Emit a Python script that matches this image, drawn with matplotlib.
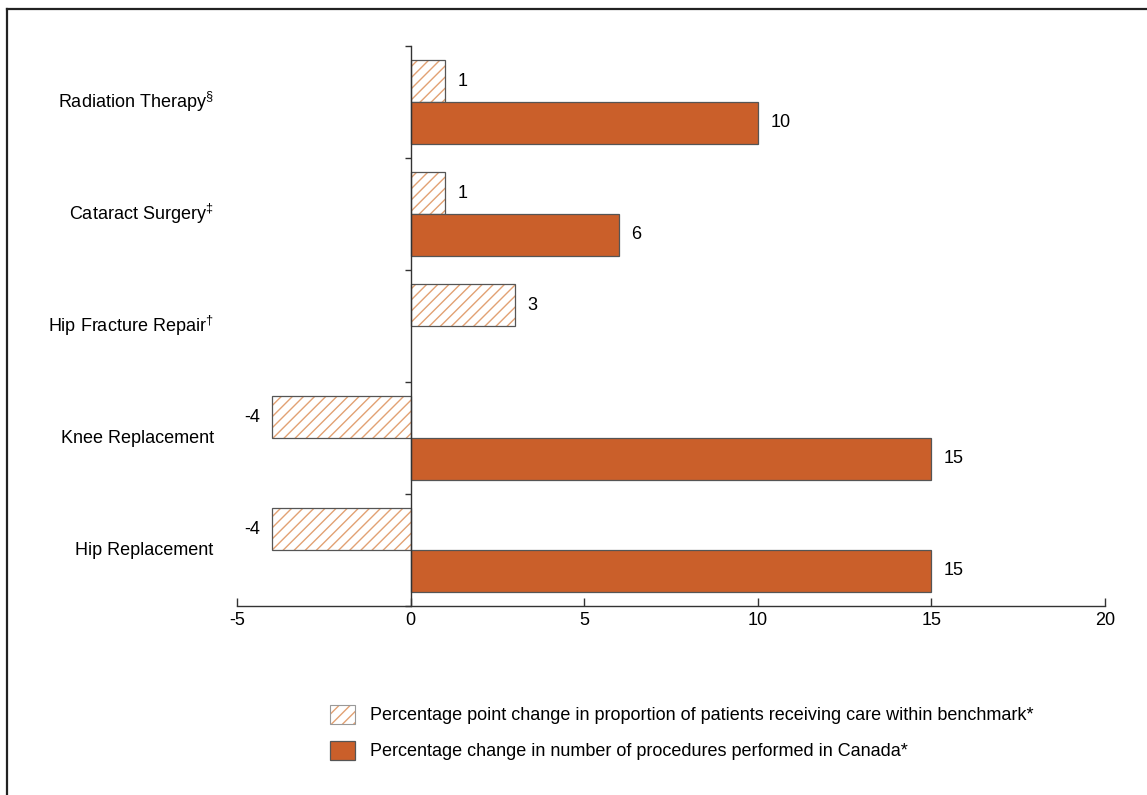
import numpy as np
import matplotlib
matplotlib.use('Agg')
import matplotlib.pyplot as plt
from matplotlib.patches import Patch
from matplotlib.lines import Line2D

plt.rcParams['font.family'] = ['Liberation Sans', 'DejaVu Sans']
plt.rcParams['mathtext.fontset'] = 'custom'
plt.rcParams['mathtext.rm'] = 'Liberation Sans'
plt.rcParams['hatch.linewidth'] = 1.0

# categories, bottom to top
categories = ['Hip Replacement', 'Knee Replacement', 'Hip Fracture Repair',
              'Cataract Surgery', 'Radiation Therapy']
marks = ['', '', '\u2020', '\u2021', '\u00a7']
benchmark_change = [-4, -4, 3, 1, 1]
volume_change = [15, 15, np.nan, 6, 10]
xticks = [-5, 0, 5, 10, 15, 20]

legend_labels = ['Percentage point change in proportion of patients receiving care within benchmark*',
                 'Percentage change in number of procedures performed in Canada*']

orange = '#CA5F2A'
hatch_col = '#E2A173'
edge = '#555555'
fs = 13

fig = plt.figure(figsize=(11.47, 7.95), dpi=100)
ax = fig.add_axes([0.2066, 0.2377, 0.7568, 0.7044])

y = np.arange(len(categories))
h = 0.374

# hatched bars: hatch drawn by an orange-edged bar, outline by a second one
ax.barh(y, benchmark_change, height=h, align='edge', color='white',
        edgecolor=hatch_col, hatch='///', linewidth=0)
ax.barh(y, benchmark_change, height=h, align='edge', fill=False,
        edgecolor=edge, linewidth=0.9)
ax.barh(y, volume_change, height=-h, align='edge', color=orange,
        edgecolor=edge, linewidth=0.9)

for yi, v in zip(y, benchmark_change):
    off = 9 if v >= 0 else -8
    ax.annotate(f'{v}', (v, yi + h / 2), xytext=(off, 0), textcoords='offset points',
                ha='left' if v >= 0 else 'right', va='center', fontsize=fs)
for yi, v in zip(y, volume_change):
    if np.isnan(v):
        continue
    ax.annotate(f'{v:g}', (v, yi - h / 2), xytext=(9, 0), textcoords='offset points',
                ha='left', va='center', fontsize=fs)

# category labels
for yi, name, m in zip(y, categories, marks):
    lab = name + (f'$^{{{m}}}$' if m else '')
    ax.text(-5.67, yi, lab, ha='right', va='center', fontsize=fs)

ax.set_xlim(-5, 20)
ax.set_ylim(-0.5, len(categories) - 0.5)
ax.set_xticks(xticks)
ax.set_xticklabels([str(t) for t in xticks], fontsize=fs)
ax.set_yticks(np.arange(-0.5, len(categories), 1.0))
ax.set_yticklabels([])

ax.spines['top'].set_visible(False)
ax.spines['right'].set_visible(False)
ax.spines['left'].set_position(('data', 0))
for s in ('left', 'bottom'):
    ax.spines[s].set_color('#333333')
    ax.spines[s].set_linewidth(1.0)
ax.tick_params(axis='x', direction='in', length=6, width=1.0, color='#333333', pad=4)
ax.tick_params(axis='y', direction='out', length=4, width=1.0, color='#333333')

# legend
h1 = (Patch(facecolor='white', edgecolor=hatch_col, hatch='///', linewidth=0),
      Patch(fill=False, edgecolor='#999999', linewidth=0.8))
h2 = Patch(facecolor=orange, edgecolor=edge, linewidth=0.9)
fig.legend([h1, h2], legend_labels, loc='upper left', bbox_to_anchor=(0.2877, 0.1135),
           frameon=False, fontsize=fs, handlelength=1.4, handleheight=1.25,
           handletextpad=0.8, labelspacing=0.9, borderpad=0, borderaxespad=0)

# frame lines on top and left
fig.add_artist(Line2D([0.0061, 0.0061], [0, 0.9887], transform=fig.transFigure,
                      color='#222222', linewidth=1.6))
fig.add_artist(Line2D([0.0061, 1], [0.9887, 0.9887], transform=fig.transFigure,
                      color='#222222', linewidth=1.6))

fig.savefig('out.png', dpi=100)
